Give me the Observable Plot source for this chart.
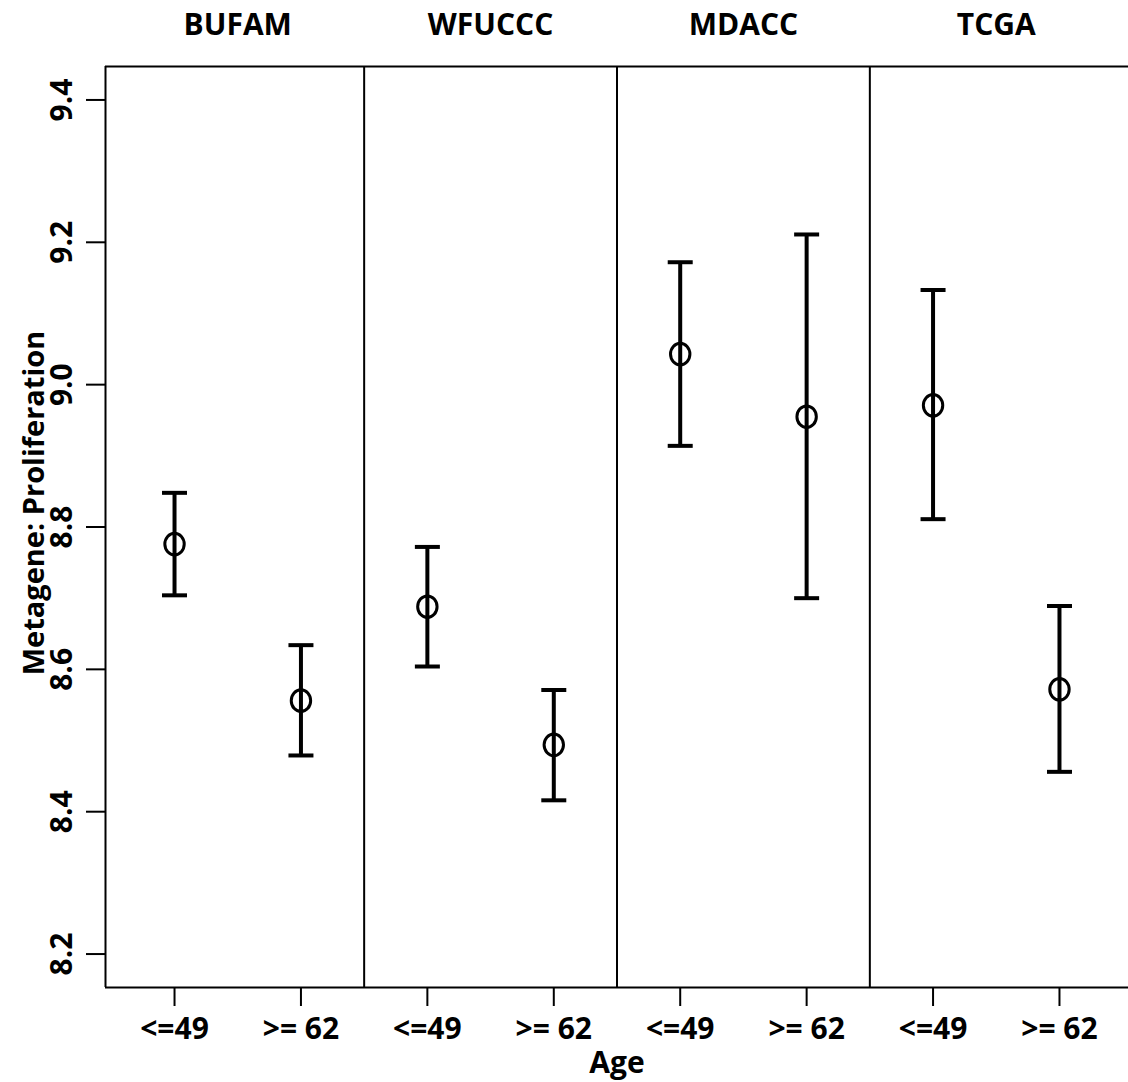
<!DOCTYPE html>
<html>
<head>
<meta charset="utf-8">
<script src="https://cdn.jsdelivr.net/npm/d3@7"></script>
<script src="https://cdn.jsdelivr.net/npm/@observablehq/plot@0.6"></script>
<style>
  html, body { margin: 0; padding: 0; background: #fff; }
</style>
</head>
<body>
<div id="chart"></div>
<script>
// ---- data ----
const datasets = ["BUFAM", "WFUCCC", "MDACC", "TCGA"];
const ageGroups = ["<=49", ">= 62"];
// order: BUFAM <=49, BUFAM >=62, WFUCCC <=49, WFUCCC >=62, MDACC ..., TCGA ...
const means  = [8.776, 8.556, 8.688, 8.494, 9.043, 8.955, 8.971, 8.572];
const lowers = [8.704, 8.479, 8.604, 8.416, 8.914, 8.700, 8.811, 8.456];
const uppers = [8.848, 8.634, 8.772, 8.571, 9.172, 9.211, 9.133, 8.689];
const yTicks = [8.2, 8.4, 8.6, 8.8, 9.0, 9.2, 9.4];
const yDomain = [8.153, 9.447];
const xDomain = [0.454, 8.546];
const yTitle = "Metagene: Proliferation";
const xTitle = "Age";

// ---- derived tables ----
const rows = means.map((m, k) => ({
  i: k + 1,
  dataset: datasets[Math.floor(k / ageGroups.length)],
  age: ageGroups[k % ageGroups.length],
  mean: m, lo: lowers[k], hi: uppers[k]
}));
const panels = datasets.map(name => {
  const xs = rows.filter(r => r.dataset === name).map(r => r.i);
  return {name, center: d3.mean(xs), min: d3.min(xs), max: d3.max(xs)};
});
const dividers = panels.slice(1).map((p, j) => (panels[j].max + p.min) / 2);

// ---- custom symbols ----
const capSymbol = {
  draw(ctx) { ctx.moveTo(-12.5, 0); ctx.lineTo(12.5, 0); }
};
const ringSymbol = {
  draw(ctx) {
    const rx = 9.7, ry = 10.8, k = 0.5523;
    ctx.moveTo(rx, 0);
    ctx.bezierCurveTo(rx, k * ry, k * rx, ry, 0, ry);
    ctx.bezierCurveTo(-k * rx, ry, -rx, k * ry, -rx, 0);
    ctx.bezierCurveTo(-rx, -k * ry, -k * rx, -ry, 0, -ry);
    ctx.bezierCurveTo(k * rx, -ry, rx, -k * ry, rx, 0);
    ctx.closePath();
  }
};

const font = "'Open Sans', sans-serif";
const bold = {fontSize: 30, fontWeight: "bold", fill: "black"};

const chart = Plot.plot({
  width: 1128,
  height: 1082,
  marginTop: 66,
  marginBottom: 95,
  marginLeft: 105,
  marginRight: 0,
  style: {fontFamily: font, background: "white", color: "black", overflow: "visible"},
  x: {domain: xDomain},
  y: {domain: yDomain},
  marks: [
    // frame (top, left, bottom) and panel dividers
    Plot.ruleY([yDomain[1]], {stroke: "black", strokeWidth: 2}),
    Plot.ruleY([yDomain[0]], {stroke: "black", strokeWidth: 2}),
    Plot.ruleX([xDomain[0]], {stroke: "black", strokeWidth: 2}),
    Plot.ruleX(dividers, {stroke: "black", strokeWidth: 2}),
    // y axis
    Plot.axisY({ticks: yTicks, tickSize: 19, tickFormat: () => "", stroke: "black", strokeWidth: 2, label: null}),
    Plot.text(yTicks, {x: xDomain[0], y: d => d, text: d => d.toFixed(1), rotate: -90, dx: -43,
      textAnchor: "middle", lineAnchor: "middle", ...bold}),
    // x axis
    Plot.axisX({ticks: rows.map(r => r.i), tickSize: 19, tickFormat: () => "", stroke: "black", strokeWidth: 2, label: null}),
    Plot.text(rows, {x: "i", text: "age", frameAnchor: "bottom", dy: 42, lineAnchor: "middle", ...bold}),
    // panel titles
    Plot.text(panels, {x: "center", text: "name", frameAnchor: "top", dy: -41, lineAnchor: "middle", ...bold}),
    // axis titles
    Plot.text([xTitle], {text: d => d, frameAnchor: "bottom", dy: 76, lineAnchor: "middle", ...bold}),
    Plot.text([yTitle], {text: d => d, frameAnchor: "left", rotate: -90, dx: -71, dy: -24,
      textAnchor: "middle", lineAnchor: "middle", fontSize: 29, fontWeight: "bold", fill: "black"}),
    // error bars
    Plot.ruleX(rows, {x: "i", y1: "lo", y2: "hi", stroke: "black", strokeWidth: 4}),
    Plot.dot(rows, {x: "i", y: "lo", symbol: capSymbol, fill: "none", stroke: "black", strokeWidth: 4}),
    Plot.dot(rows, {x: "i", y: "hi", symbol: capSymbol, fill: "none", stroke: "black", strokeWidth: 4}),
    // means
    Plot.dot(rows, {x: "i", y: "mean", symbol: ringSymbol, fill: "none", stroke: "black", strokeWidth: 3})
  ]
});
document.getElementById("chart").appendChild(chart);
</script>
</body>
</html>
